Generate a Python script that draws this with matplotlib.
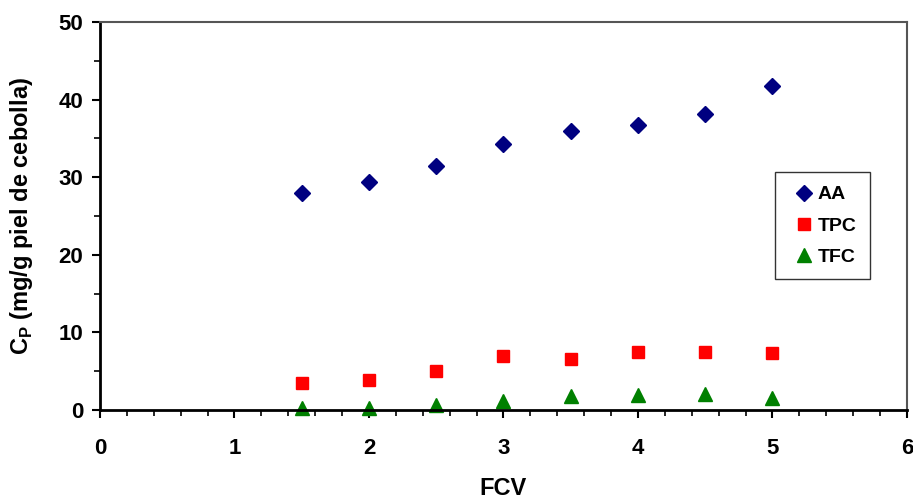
import matplotlib.pyplot as plt
from matplotlib.ticker import MultipleLocator

fcv = [1.5, 2.0, 2.5, 3.0, 3.5, 4.0, 4.5, 5.0]
aa = [28.0, 29.4, 31.4, 34.3, 35.9, 36.7, 38.2, 41.7]
tpc = [3.5, 3.9, 5.0, 7.0, 6.6, 7.5, 7.5, 7.3]
tfc = [0.2, 0.2, 0.6, 1.1, 1.8, 1.9, 2.1, 1.5]

plt.rcParams['font.family'] = ['Liberation Sans', 'DejaVu Sans']
plt.rcParams['font.weight'] = 'bold'

fig = plt.figure(figsize=(9.13, 4.99), dpi=100)
ax = fig.add_axes([0.1095, 0.1784, 0.8839, 0.7775])

ax.plot(fcv, aa, 'D', color='#000080', markersize=8, label='AA', clip_on=False)
ax.plot(fcv, tpc, 's', color='#ff0000', markersize=9, label='TPC', clip_on=False)
ax.plot(fcv, tfc, '^', color='#008000', markersize=9.5, label='TFC', clip_on=False)

ax.set_xlim(0, 6)
ax.set_ylim(0, 50)
ax.xaxis.set_major_locator(MultipleLocator(1))
ax.xaxis.set_minor_locator(MultipleLocator(0.2))
ax.yaxis.set_major_locator(MultipleLocator(10))
ax.yaxis.set_minor_locator(MultipleLocator(5))
ax.tick_params(which='major', direction='out', length=6, width=1.5, labelsize=16)
ax.tick_params(axis='x', which='major', pad=14)
ax.tick_params(axis='y', which='major', pad=6)
ax.tick_params(which='minor', direction='out', length=4, width=1.2)

for s in ['left', 'bottom']:
    ax.spines[s].set_linewidth(2)
    ax.spines[s].set_color('black')
for s in ['top', 'right']:
    ax.spines[s].set_linewidth(1.5)
    ax.spines[s].set_color('#555555')

# axis titles
ax.set_xlabel('FCV', fontsize=17, fontweight='bold')
ax.xaxis.set_label_coords(0.5, -0.172)
ax.set_ylabel('C$_\\mathregular{P}$ (mg/g piel de cebolla)', fontsize=17, fontweight='bold')
ax.yaxis.set_label_coords(-0.080, 0.5)

leg = ax.legend(loc='upper left', bbox_to_anchor=(0.836, 0.613), borderaxespad=0,
                frameon=True, fancybox=False, edgecolor='black', fontsize=14,
                handletextpad=-0.1, labelspacing=0.7, borderpad=0.7, handlelength=1.6)
leg.get_frame().set_linewidth(1)

fig.savefig('out.png', dpi=100)
